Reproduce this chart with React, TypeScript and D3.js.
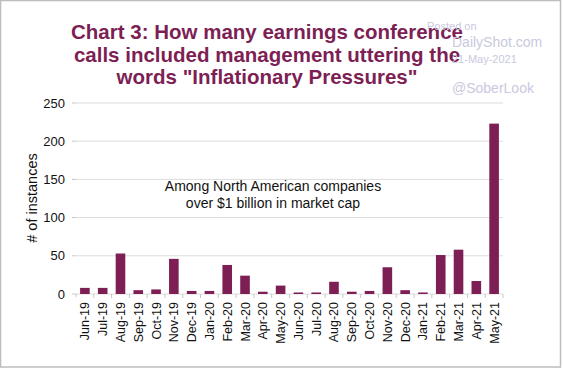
import * as d3 from 'd3'

const months = [
  "Jun-19", "Jul-19", "Aug-19", "Sep-19", "Oct-19", "Nov-19", "Dec-19", "Jan-20",
  "Feb-20", "Mar-20", "Apr-20", "May-20", "Jun-20", "Jul-20", "Aug-20", "Sep-20",
  "Oct-20", "Nov-20", "Dec-20", "Jan-21", "Feb-21", "Mar-21", "Apr-21", "May-21",
]
const instances = [8, 8, 53, 5, 6, 46, 4, 4, 38, 24, 3, 11, 2, 2, 16, 3, 4, 35, 5, 2, 51, 58, 17, 223]
const yTicks = [0, 50, 100, 150, 200, 250]
const titleLines = [
  "Chart 3: How many earnings conference",
  "calls included management uttering the",
  "words \"Inflationary Pressures\"",
]
const noteLines = ["Among North American companies", "over $1 billion in market cap"]

const W = 564
const H = 368
const FONT = "'Liberation Sans', Arial, Helvetica, sans-serif"
const BAR = "#7d1f55"
const TITLE = "#7d1f55"
const WM = "#c9c9de"

export default function App() {
  const margin = { left: 76, right: 61, top: 103, bottom: 74 }
  const x = d3.scaleBand<string>()
    .domain(months)
    .range([margin.left, W - margin.right])
    .paddingInner(0.46)
    .paddingOuter(0.23)
  const y = d3.scaleLinear()
    .domain([0, 250])
    .range([H - margin.bottom, margin.top])
  const step = x.step()
  const x0 = margin.left
  const x1 = W - margin.right

  return (
    <svg width={W} height={H} style={{ position: 'absolute', left: 0, top: 0, background: '#fff' }}
      fontFamily={FONT}>
      <rect x={0.5} y={0.5} width={560} height={366.5} fill="#fff" stroke="#bdbdbd" strokeWidth={1.5} />

      {titleLines.map((t, i) => (
        <text key={t} x={267} y={39 + i * 22.5} textAnchor="middle" fontSize={20.5}
          fontWeight="bold" fill={TITLE}>{t}</text>
      ))}

      <text x={427} y={30} fontSize={11} fill={WM}>Posted on</text>
      <text x={452} y={47} fontSize={14} fill={WM}>DailyShot.com</text>
      <text x={452} y={63} fontSize={11} fill={WM}>21-May-2021</text>
      <text x={452} y={93} fontSize={14} fill={WM}>@SoberLook</text>

      {yTicks.map(t => (
        <g key={t}>
          <line x1={x0} x2={x1} y1={y(t)} y2={y(t)} stroke="#dcdcdc" strokeWidth={1} />
          <line x1={x0 - 4} x2={x0} y1={y(t)} y2={y(t)} stroke="#c8c8c8" strokeWidth={1} />
          <text x={65} y={y(t)} dy="0.35em" textAnchor="end" fontSize={13} fill="#111">{t}</text>
        </g>
      ))}
      <line x1={x0} x2={x0} y1={y(0)} y2={y(0) + 3} stroke="#c8c8c8" />
      {months.map((m, i) => (
        <line key={m + 't'} x1={x0 + step * (i + 1)} x2={x0 + step * (i + 1)}
          y1={y(0)} y2={y(0) + 4} stroke="#c8c8c8" />
      ))}

      <text transform={`translate(37,${198}) rotate(-90)`} textAnchor="middle" fontSize={14.5}
        fill="#111">{"# of instances"}</text>

      {months.map((m, i) => (
        <rect key={m} x={x(m)} y={y(instances[i])} width={x.bandwidth()}
          height={y(0) - y(instances[i])} fill={BAR} />
      ))}

      {months.map(m => {
        const cx = (x(m) ?? 0) + x.bandwidth() / 2
        return (
          <text key={m + 'l'} transform={`translate(${cx + 4.5},${302}) rotate(-90)`}
            textAnchor="end" fontSize={12.5} fill="#111">{m}</text>
        )
      })}

      {noteLines.map((t, i) => (
        <text key={t} x={273} y={191 + i * 17} textAnchor="middle" fontSize={14} fill="#111">{t}</text>
      ))}
    </svg>
  )
}
